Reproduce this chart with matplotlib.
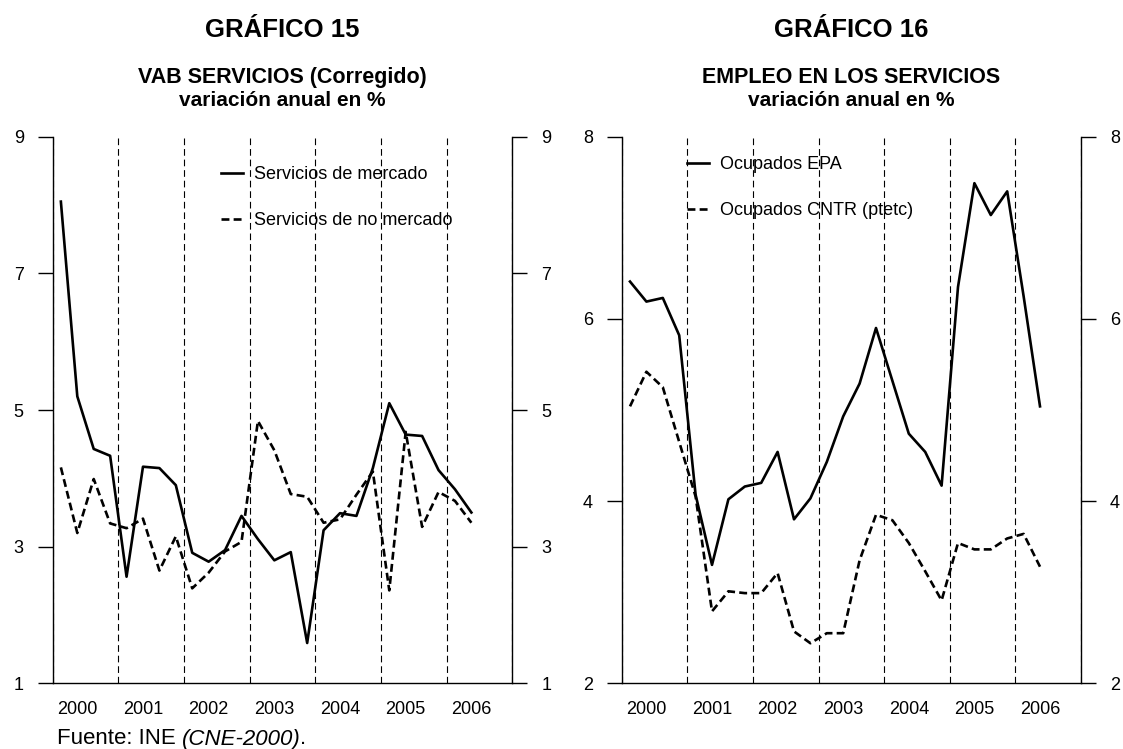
import numpy as np
import matplotlib
matplotlib.use('Agg')
import matplotlib.pyplot as plt

plt.rcParams['font.family'] = ['Liberation Sans', 'DejaVu Sans']

# trimestral, 2000T1 .. 2006T2
years = ['2000', '2001', '2002', '2003', '2004', '2005', '2006']

serv_mercado = [8.05, 5.20, 4.43, 4.33, 2.56, 4.17, 4.15, 3.90,
                2.91, 2.78, 2.95, 3.45, 3.11, 2.80, 2.92, 1.59,
                3.24, 3.49, 3.45, 4.15, 5.10, 4.64, 4.62, 4.12,
                3.84, 3.50]
serv_no_mercado = [4.16, 3.20, 3.99, 3.34, 3.27, 3.41, 2.65, 3.15,
                   2.39, 2.62, 2.93, 3.07, 4.84, 4.41, 3.77, 3.73,
                   3.35, 3.40, 3.76, 4.10, 2.36, 4.68, 3.29, 3.80,
                   3.67, 3.35]

ocup_epa = [6.41, 6.19, 6.23, 5.82, 4.07, 3.30, 4.02, 4.16,
            4.20, 4.54, 3.80, 4.03, 4.43, 4.93, 5.29, 5.90,
            5.32, 4.74, 4.54, 4.17, 6.35, 7.49, 7.14, 7.40,
            6.25, 5.04]
ocup_cntr = [5.04, 5.42, 5.25, 4.65, 4.05, 2.79, 3.01, 2.99,
             2.99, 3.21, 2.57, 2.44, 2.55, 2.55, 3.35, 3.85,
             3.79, 3.54, 3.23, 2.91, 3.54, 3.47, 3.47, 3.59,
             3.64, 3.28]

W, H = 1123, 749
fig = plt.figure(figsize=(W / 100, H / 100), dpi=100)

x = np.arange(len(serv_mercado)) + 0.5
n_q = 4 * len(years)

solid = dict(color='black', lw=1.9, ls='-')
dashed = dict(color='black', lw=1.9, ls=(0, (3, 1.6)))


def setup(ax, ylim, yticks):
    ax.set_xlim(0, n_q)
    ax.set_ylim(*ylim)
    for b in range(0, n_q + 1, 4):
        ax.axvline(b, color='black', lw=0.8, ls=(0, (6, 3.5)), zorder=1)
    ax.spines['top'].set_visible(False)
    for s in ['left', 'right', 'bottom']:
        ax.spines[s].set_linewidth(1.0)
    ax.set_yticks(yticks)
    ax.tick_params(axis='y', which='major', left=True, right=True,
                   labelleft=True, labelright=True, direction='out',
                   length=10.8, width=1.0, pad=10, labelsize=13)
    ax.set_xticks([4 * k + 1.5 for k in range(len(years))])
    ax.set_xticklabels(years)
    ax.tick_params(axis='x', length=0, pad=13, labelsize=13)


ax1 = fig.add_axes([0.0469, 0.0877, 0.4094, 0.7298])
setup(ax1, (1, 9), [1, 3, 5, 7, 9])
ax1.plot(x, serv_mercado, label='Servicios de mercado', zorder=3, **solid)
ax1.plot(x, serv_no_mercado, label='Servicios de no mercado', zorder=3, **dashed)
ax1.legend(loc='upper left', bbox_to_anchor=(0.366, 0.946), frameon=False,
           fontsize=13, handlelength=1.22, handletextpad=0.59,
           labelspacing=1.6, borderpad=0, borderaxespad=0)

ax2 = fig.add_axes([0.5537, 0.0877, 0.4089, 0.7298])
setup(ax2, (2, 8), [2, 4, 6, 8])
ax2.plot(x, ocup_epa, label='Ocupados EPA', zorder=3, **solid)
ax2.plot(x, ocup_cntr, label='Ocupados CNTR (ptetc)', zorder=3, **dashed)
ax2.legend(loc='upper left', bbox_to_anchor=(0.143, 0.9645), frameon=False,
           fontsize=13, handlelength=1.22, handletextpad=0.59,
           labelspacing=1.6, borderpad=0, borderaxespad=0)

# titulos
for cx, t, s1 in [(0.2517, 'GRÁFICO 15', 'VAB SERVICIOS (Corregido)'),
                  (0.7582, 'GRÁFICO 16', 'EMPLEO EN LOS SERVICIOS')]:
    fig.text(cx, 1 - 36.7 / H, t, ha='center', va='baseline',
             fontsize=18.5, fontweight='bold')
    fig.text(cx, 1 - 83.3 / H, s1, ha='center', va='baseline',
             fontsize=15.5, fontweight='bold')
    fig.text(cx, 1 - 106 / H, 'variación anual en %', ha='center',
             va='baseline', fontsize=15, fontweight='bold')

# fuente
t1 = fig.text(56.7 / W, 4.5 / H, 'Fuente: INE ', ha='left', va='baseline',
              fontsize=16)
t2 = plt.annotate('(CNE-2000)', xy=(1, 0), xycoords=t1, ha='left',
                  va='bottom', fontsize=16, style='italic',
                  annotation_clip=False)
plt.annotate('.', xy=(1, 0), xycoords=t2, ha='left', va='bottom',
             fontsize=16, annotation_clip=False)

fig.savefig('out.png', dpi=100)
